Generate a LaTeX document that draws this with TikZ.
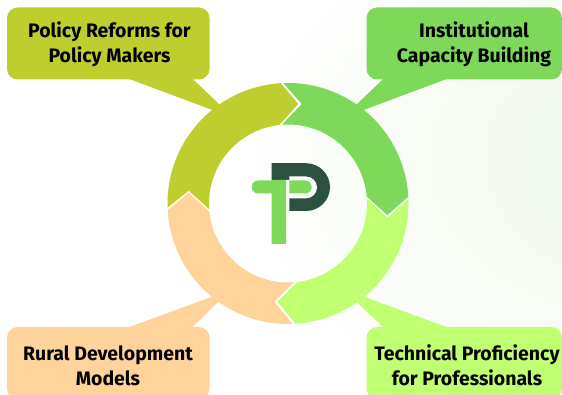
\documentclass[tikz,border=0pt]{standalone}
\usepackage{fontspec}
\setmainfont{Fira Sans}
\definecolor{olivec}{HTML}{BDCE2E}
\definecolor{greenc}{HTML}{7ED95B}
\definecolor{limec}{HTML}{C1FF72}
\definecolor{peachc}{HTML}{FFD49A}
\definecolor{darkc}{HTML}{2C5140}
\definecolor{washc}{HTML}{EFF8EA}
\pgfdeclareradialshading{wash}{\pgfpoint{42bp}{6bp}}{color(0bp)=(washc); color(14bp)=(washc!75!white); color(33bp)=(white); color(100bp)=(white)}
\tikzset{
  calloutbox/.style={rounded corners=8pt,minimum width=#1,minimum height=54pt,inner sep=0pt,outer sep=0pt},
  boxlabel/.style={align=center,font=\fontsize{14.6pt}{18.75pt}\selectfont\bfseries,text=black,inner sep=0pt}
}
\begin{document}
\begin{tikzpicture}[x=0.75pt,y=-0.75pt]
\useasboundingbox (0,0) rectangle (562,395);
\begin{scope}
\clip (0,0) rectangle (562,395);
\shade[shading=wash] (0,0) rectangle (562,395);

% callouts
\node[calloutbox=151.9pt,fill=olivec,anchor=north west] (boxa) at (7,7.5) {};
\fill[olivec] (126.7,78) -- (212.3,110) -- (225,115) -- (219.3,104.3) -- (191.7,78) -- cycle;
\node[calloutbox=146.6pt,fill=greenc,anchor=north west] (boxb) at (366.5,7.5) {};
\fill[greenc] (449.3,78) -- (363.7,110) -- (351,115) -- (356.7,104.3) -- (384.3,78) -- cycle;
\node[calloutbox=146.6pt,fill=limec,anchor=north west] (boxc) at (366.5,327) {};
\fill[limec] (449.3,328) -- (364,296.7) -- (351,292) -- (357.3,302.7) -- (384.3,328) -- cycle;
\node[calloutbox=151.9pt,fill=peachc,anchor=north west] (boxd) at (7,327) {};
\fill[peachc] (126.7,328) -- (212,296.7) -- (225,292) -- (218.3,301.7) -- (191.7,328) -- cycle;
\end{scope}

\node[boxlabel] (la) at (109.5,44.5) {Policy Reforms for\\Policy Makers};
\node[boxlabel] (lb) at (474,44.5) {Institutional\\Capacity Building};
\node[boxlabel] (lc) at (467,365.5) {Technical Proficiency\\for Professionals};
\node[boxlabel] (ld) at (108,365.5) {Rural Development\\Models};

% ring
\coordinate (c) at (288,203.5);
\fill[olivec] ([shift={(178:120.5)}]c) arc[start angle=178,end angle=266.5,radius=120.5]
  -- (298.3,104) -- ([shift={(263.7:79)}]c) arc[start angle=263.7,end angle=175.8,radius=79]
  -- (188.7,190.7) -- cycle;
\fill[greenc] ([shift={(267.8:120.5)}]c) arc[start angle=267.8,end angle=356.8,radius=120.5]
  -- (387.3,215) -- ([shift={(355:79)}]c) arc[start angle=355,end angle=265.6,radius=79]
  -- (301.7,104) -- cycle;
\fill[limec] ([shift={(358:120.5)}]c) arc[start angle=358,end angle=446.5,radius=120.5]
  -- (277.3,301.7) -- ([shift={(443.2:79)}]c) arc[start angle=443.2,end angle=356.2,radius=79]
  -- (387.3,217.7) -- cycle;
\fill[peachc] ([shift={(87.8:120.5)}]c) arc[start angle=87.8,end angle=176.9,radius=120.5]
  -- (188.7,192.7) -- ([shift={(174:79)}]c) arc[start angle=174,end angle=85.4,radius=79]
  -- (274.3,301.7) -- cycle;

% logo
\fill[darkc] (271.7,163.2) -- (306,163.2) .. controls (319.2,163.2) and (330,174) .. (330,187.1)
  .. controls (330,200.3) and (319.2,211) .. (306,211) -- (289.3,211) -- (289.3,180) -- (271.7,180) -- cycle;
\fill[white] (286,180) -- (289.3,180) -- (289.3,176.5) -- (306,176.5) .. controls (312,176.5) and (317,181.4) .. (317,187.4)
  .. controls (317,193.4) and (312,198.3) .. (306,198.3) -- (286,198.3) -- cycle;
\fill[greenc] (289.3,180.5) -- (305.2,180.5) .. controls (308.8,180.5) and (311.7,183.4) .. (311.7,187)
  .. controls (311.7,190.6) and (308.8,193.5) .. (305.2,193.5) -- (289.3,193.5) -- cycle;
\fill[greenc] (258.2,180.5) -- (271.7,180.5) -- (271.7,180) -- (286,180) -- (286,244) -- (271.7,244) -- (271.7,193.5) -- (258.2,193.5)
  .. controls (254.6,193.5) and (251.7,190.6) .. (251.7,187) .. controls (251.7,183.4) and (254.6,180.5) .. (258.2,180.5) -- cycle;
\end{tikzpicture}
\end{document}
